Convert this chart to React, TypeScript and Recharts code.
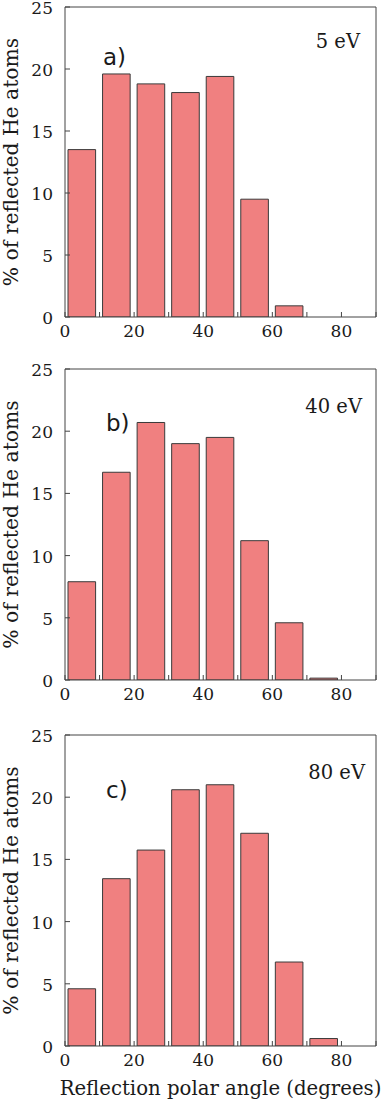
import React from 'react';
import { BarChart, Bar, XAxis, YAxis, Label } from 'recharts';

const angleBins = [5, 15, 25, 35, 45, 55, 65, 75, 85];
const values5eV = [13.5, 19.6, 18.8, 18.1, 19.4, 9.5, 0.9, 0, 0];
const values40eV = [7.9, 16.7, 20.7, 19.0, 19.5, 11.2, 4.6, 0.15, 0];
const values80eV = [4.6, 13.45, 15.75, 20.6, 21.0, 17.1, 6.75, 0.6, 0];
const xTicks = [0, 10, 20, 30, 40, 50, 60, 70, 80, 90];
const xLabelTicks = [0, 20, 40, 60, 80];
const yTicks = [0, 5, 10, 15, 20, 25];
const panelLetters = ['a)', 'b)', 'c)'];
const energyLabels = ['5 eV', '40 eV', '80 eV'];
const yAxisTitle = '% of reflected He atoms';
const xAxisTitle = 'Reflection polar angle (degrees)';

const SERIF = "'DejaVu Serif', serif";
const SANS = "'DejaVu Sans', sans-serif";
const AXIS_COLOR = '#444';
const TEXT_COLOR = '#1a1a1a';

const XTick = (props: any) => {
  const { x, y, payload } = props;
  if (!xLabelTicks.includes(payload.value)) return <g />;
  return (
    <text x={x} y={y + 25} textAnchor="middle" fontSize={17} fill={TEXT_COLOR} style={{ fontFamily: SERIF }}>
      {payload.value}
    </text>
  );
};

const YTick = (props: any) => {
  const { x, y, payload } = props;
  return (
    <text x={x} y={y + 7} textAnchor="end" fontSize={17} fill={TEXT_COLOR} style={{ fontFamily: SERIF }}>
      {payload.value}
    </text>
  );
};

type PanelProps = {
  values: number[];
  top: number;
  marginTop: number;
  plotHeight: number;
  bottomHeight: number;
  letter: string;
  energy: string;
  letterDx: number;
  letterDy: number;
  energyRight: number;
  energyDy: number;
  showXTitle: boolean;
};

const Panel = (p: PanelProps) => {
  const data = angleBins.map((a, i) => ({ angle: a, value: p.values[i] }));
  const height = p.marginTop + 7 + p.plotHeight + p.bottomHeight;
  const renderAnnot = (lp: any) => {
    const vb = lp.viewBox;
    const x0 = vb.x;
    const y0 = vb.y + vb.height;
    const x1 = vb.x + vb.width;
    return (
      <g>
        <text x={x0 + p.letterDx} y={y0 + p.letterDy} fontSize={23} fill={TEXT_COLOR} style={{ fontFamily: SANS }}>
          {p.letter}
        </text>
        <text x={x1 - p.energyRight} y={y0 + p.energyDy} textAnchor="end" fontSize={19.5} fill={TEXT_COLOR} style={{ fontFamily: SERIF }}>
          {p.energy}
        </text>
      </g>
    );
  };
  const renderYTitle = (lp: any) => {
    const vb = lp.viewBox;
    const cy = vb.y + vb.height / 2;
    const cx = 18;
    return (
      <text x={cx} y={cy} transform={`rotate(-90, ${cx}, ${cy})`} textAnchor="middle" fontSize={20.3} fill={TEXT_COLOR} style={{ fontFamily: SERIF }}>
        {yAxisTitle}
      </text>
    );
  };
  const renderXTitle = (lp: any) => {
    const vb = lp.viewBox;
    return (
      <text x={vb.x + vb.width / 2} y={vb.y + 49} textAnchor="middle" fontSize={19.7} fill={TEXT_COLOR} style={{ fontFamily: SERIF }}>
        {xAxisTitle}
      </text>
    );
  };
  return (
    <div style={{ position: 'absolute', left: 0, top: p.top - p.marginTop, width: 382, height }}>
      <BarChart width={382} height={height} data={data} margin={{ top: p.marginTop, right: 0, bottom: 0, left: 0 }}>
        <XAxis
          xAxisId="bottom"
          dataKey="angle"
          type="number"
          domain={[0, 90]}
          ticks={xTicks}
          interval={0}
          allowDataOverflow
          tickSize={-5}
          tickMargin={0}
          height={p.bottomHeight}
          stroke={AXIS_COLOR}
          tick={<XTick />}
        >
          {p.showXTitle ? <Label content={renderXTitle} /> : null}
        </XAxis>
        <XAxis
          xAxisId="top"
          orientation="top"
          dataKey="angle"
          type="number"
          domain={[0, 90]}
          ticks={xTicks}
          interval={0}
          allowDataOverflow
          tickSize={-5}
          height={7}
          stroke={AXIS_COLOR}
          tick={false}
        >
          <Label content={renderAnnot} />
        </XAxis>
        <YAxis
          yAxisId="left"
          type="number"
          domain={[0, 25]}
          ticks={yTicks}
          interval={0}
          allowDataOverflow
          tickSize={-5}
          tickMargin={17}
          width={65}
          stroke={AXIS_COLOR}
          tick={<YTick />}
        >
          <Label content={renderYTitle} />
        </YAxis>
        <YAxis
          yAxisId="right"
          orientation="right"
          type="number"
          domain={[0, 25]}
          ticks={yTicks}
          interval={0}
          allowDataOverflow
          tickSize={-5}
          width={6}
          stroke={AXIS_COLOR}
          tick={false}
        />
        <Bar
          dataKey="value"
          xAxisId="bottom"
          yAxisId="left"
          fill="#F08080"
          stroke="#3a3a3a"
          strokeWidth={1}
          barSize={27.6}
          isAnimationActive={false}
        />
      </BarChart>
    </div>
  );
};

export default function App() {
  return (
    <div style={{ position: 'absolute', left: 0, top: 0, width: 382, height: 1103, background: '#fff' }}>
      <Panel values={values5eV} top={0} marginTop={0} plotHeight={310} bottomHeight={23} letter={panelLetters[0]} energy={energyLabels[0]}
        letterDx={38} letterDy={58} energyRight={16} energyDy={41} showXTitle={false} />
      <Panel values={values40eV} top={362} marginTop={8} plotHeight={311} bottomHeight={23} letter={panelLetters[1]} energy={energyLabels[1]}
        letterDx={41} letterDy={62} energyRight={14} energyDy={44} showXTitle={false} />
      <Panel values={values80eV} top={728} marginTop={8} plotHeight={311} bottomHeight={57} letter={panelLetters[2]} energy={energyLabels[2]}
        letterDx={41} letterDy={63} energyRight={11} energyDy={44} showXTitle={true} />
    </div>
  );
}
